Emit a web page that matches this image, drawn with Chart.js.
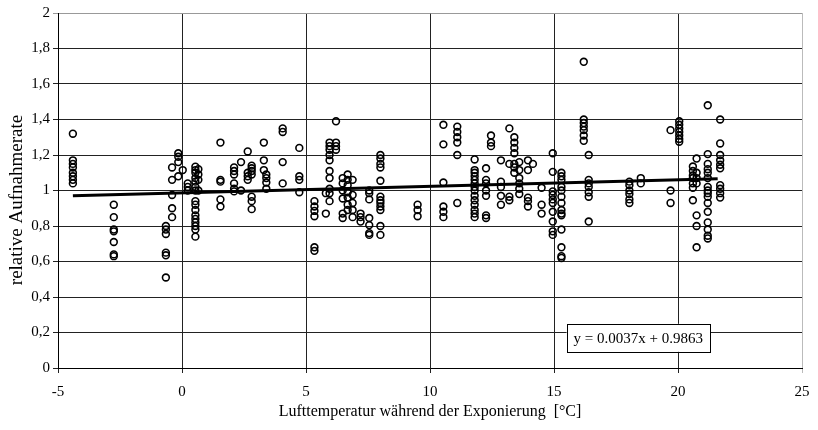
<!DOCTYPE html>
<html>
<head>
    <title>relative Aufnahmerate vs. Lufttemperatur</title>
    <script src="https://cdn.jsdelivr.net/npm/chart.js"></script>
    <style>
        body { margin: 0; background: #fff; }
    </style>
</head>
<body>
    <canvas id="rateChart" width="818" height="430"></canvas>
    <script>
        // temperature of each measured column (°C) and the rates read in that column
        const columnTemps = [
            -4.4, -2.75, -0.65, -0.4, -0.15, 0.03, 0.23, 0.54, 0.66,
            1.55, 2.1, 2.38, 2.65, 2.81, 3.3, 3.4, 4.06, 4.73,
            5.34, 5.8, 5.95, 6.21, 6.48, 6.68, 6.88, 7.2, 7.55, 8.0, 9.5,
            10.54, 11.1, 11.8, 12.26, 12.46, 12.86, 13.2, 13.4, 13.6, 13.95, 14.15, 14.5, 14.95,
            15.3, 16.2, 16.4, 18.04, 18.5, 19.7, 20.05, 20.6, 20.75, 21.2, 21.7
        ];
        const columnRates = [
            [1.32, 1.17, 1.15, 1.13, 1.10, 1.08, 1.06, 1.04],
            [0.92, 0.85, 0.78, 0.77, 0.71, 0.64, 0.63],
            [0.80, 0.78, 0.755, 0.65, 0.635, 0.51],
            [1.13, 1.06, 0.975, 0.90, 0.85],
            [1.21, 1.19, 1.16, 1.08],
            [1.115],
            [1.04, 1.02, 1.0],
            [1.134, 1.115, 1.10, 1.07, 1.05, 1.02, 1.0, 0.94, 0.92, 0.89, 0.86, 0.84, 0.82, 0.80, 0.78, 0.74],
            [1.12, 1.09, 1.06, 1.0],
            [1.27, 1.06, 1.05, 0.95, 0.91],
            [1.13, 1.11, 1.09, 1.04, 1.01, 0.995],
            [1.16, 1.0],
            [1.22, 1.10, 1.08, 1.06],
            [1.14, 1.125, 1.11, 1.09, 0.965, 0.94, 0.895],
            [1.27, 1.17, 1.115],
            [1.09, 1.07, 1.045, 1.01],
            [1.35, 1.33, 1.16, 1.04],
            [1.24, 1.08, 1.06, 0.99],
            [0.94, 0.91, 0.885, 0.855, 0.68, 0.66],
            [0.985, 0.87],
            [1.27, 1.25, 1.23, 1.20, 1.17, 1.11, 1.07, 1.01, 0.985, 0.94],
            [1.39, 1.27, 1.25, 1.23],
            [1.07, 1.04, 1.0, 0.955, 0.87, 0.845],
            [1.09, 1.06, 1.03, 0.99, 0.96, 0.92, 0.89],
            [1.06, 0.975, 0.93, 0.89, 0.85],
            [0.87, 0.85, 0.825],
            [1.0, 0.985, 0.95, 0.845, 0.805, 0.76, 0.75],
            [1.20, 1.18, 1.15, 1.13, 1.055, 0.965, 0.945, 0.93, 0.91, 0.89, 0.80, 0.75],
            [0.92, 0.89, 0.855],
            [1.37, 1.26, 1.045, 0.91, 0.88, 0.85],
            [1.36, 1.33, 1.30, 1.27, 1.20, 0.93],
            [1.175, 1.115, 1.10, 1.08, 1.06, 1.04, 1.02, 1.0, 0.97, 0.945, 0.92, 0.89, 0.87, 0.85],
            [1.125, 1.06, 1.04, 1.0, 0.97, 0.86, 0.845],
            [1.31, 1.27, 1.25],
            [1.17, 1.05, 1.02, 0.97, 0.92],
            [1.35, 1.15, 0.965, 0.945],
            [1.30, 1.27, 1.24, 1.21, 1.15, 1.13, 1.10],
            [1.16, 1.115, 1.07, 1.04, 1.01, 0.98],
            [1.17, 1.115, 0.96, 0.94, 0.91],
            [1.15],
            [1.015, 0.92, 0.87],
            [1.21, 1.105, 0.995, 0.975, 0.95, 0.93, 0.88, 0.825, 0.77, 0.75],
            [1.10, 1.08, 1.06, 1.02, 1.0, 0.965, 0.93, 0.89, 0.87, 0.86, 0.78, 0.68, 0.63, 0.62],
            [1.725, 1.40, 1.38, 1.36, 1.34, 1.31, 1.28],
            [1.20, 1.06, 1.04, 1.02, 0.99, 0.965, 0.825],
            [1.05, 1.03, 1.0, 0.98, 0.95, 0.93],
            [1.07, 1.04],
            [1.34, 1.0, 0.93],
            [1.39, 1.37, 1.35, 1.33, 1.31, 1.29, 1.275],
            [1.135, 1.11, 1.085, 1.07, 1.04, 1.015, 0.945],
            [1.18, 1.10, 1.07, 1.04, 0.86, 0.80, 0.68],
            [1.48, 1.205, 1.15, 1.12, 1.10, 1.07, 1.02, 1.0, 0.985, 0.965, 0.93, 0.88, 0.82, 0.78, 0.745, 0.73],
            [1.40, 1.265, 1.20, 1.17, 1.145, 1.125, 1.03, 1.01, 0.985, 0.96]
        ];

        // regression shown in the chart
        const trendSlope = 0.0037;
        const trendIntercept = 0.9863;
        const trendRange = [-4.4, 21.6];

        const xTickLabels = ['-5', '0', '5', '10', '15', '20', '25'];
        const yTickLabels = ['0', '0,2', '0,4', '0,6', '0,8', '1', '1,2', '1,4', '1,6', '1,8', '2'];

        const points = [];
        columnTemps.forEach((t, i) => {
            columnRates[i].forEach(r => points.push({ x: t, y: r }));
        });
        const trendPoints = trendRange.map(t => ({ x: t, y: trendSlope * t + trendIntercept }));
        const equationText = 'y = ' + trendSlope.toFixed(4) + 'x + ' + trendIntercept.toFixed(4);

        const serif = 'Liberation Serif';

        // white box with the regression equation
        const equationBox = {
            id: 'equationBox',
            afterDatasetsDraw(chart) {
                const { ctx, scales } = chart;
                const cx = scales.x.getPixelForValue(18.4);
                const cy = scales.y.getPixelForValue(0.17);
                ctx.save();
                ctx.font = '15px "' + serif + '"';
                const w = ctx.measureText(equationText).width + 14;
                const h = 28;
                ctx.fillStyle = '#fff';
                ctx.strokeStyle = '#000';
                ctx.lineWidth = 1;
                ctx.fillRect(cx - w / 2, cy - h / 2, w, h);
                ctx.strokeRect(Math.round(cx - w / 2) + 0.5, Math.round(cy - h / 2) + 0.5, Math.round(w), h);
                ctx.fillStyle = '#000';
                ctx.textAlign = 'center';
                ctx.textBaseline = 'middle';
                ctx.fillText(equationText, cx, cy + 1);
                ctx.restore();
            }
        };

        const ctx = document.getElementById('rateChart').getContext('2d');
        new Chart(ctx, {
            type: 'scatter',
            data: {
                datasets: [{
                    label: 'relative Aufnahmerate',
                    data: points,
                    pointRadius: 3.4,
                    pointBorderWidth: 1.6,
                    borderColor: '#000',
                    backgroundColor: 'rgba(255,255,255,0)',
                    pointHoverRadius: 3.4
                }, {
                    type: 'line',
                    label: 'Trend',
                    data: trendPoints,
                    borderColor: '#000',
                    borderWidth: 3,
                    pointRadius: 0,
                    fill: false
                }]
            },
            options: {
                responsive: false,
                animation: false,
                layout: { padding: { left: 0, right: 16, top: 13, bottom: 0 } },
                plugins: {
                    legend: { display: false },
                    tooltip: { enabled: false }
                },
                scales: {
                    x: {
                        type: 'linear',
                        min: -5,
                        max: 25,
                        afterFit: scale => {
                            scale.height = 62;
                            scale.paddingLeft = 0;
                            scale.paddingRight = 0;
                        },
                        ticks: {
                            stepSize: 5,
                            color: '#000',
                            padding: 10,
                            font: { family: serif, size: 15 },
                            callback: (v, i) => xTickLabels[i]
                        },
                        grid: {
                            color: c => c.tick && c.tick.value === 25 ? '#bbb' : '#222',
                            lineWidth: 1,
                            tickLength: 5
                        },
                        border: { color: '#000', width: 1 },
                        title: {
                            display: true,
                            text: 'Lufttemperatur während der Exponierung  [°C]',
                            color: '#000',
                            font: { family: serif, size: 16 },
                            padding: { top: 0, bottom: 9 }
                        }
                    },
                    y: {
                        min: 0,
                        max: 2,
                        afterFit: scale => { scale.width = 58; },
                        ticks: {
                            stepSize: 0.2,
                            color: '#000',
                            padding: 3,
                            font: { family: serif, size: 15 },
                            callback: (v, i) => yTickLabels[i]
                        },
                        grid: {
                            color: c => c.tick && c.tick.value === 2 ? '#999' : '#222',
                            lineWidth: 1,
                            tickLength: 5
                        },
                        border: { color: '#000', width: 1 },
                        title: {
                            display: true,
                            // trailing spaces nudge the rotated title a little lower, as in the original
                            text: 'relative Aufnahmerate    ',
                            color: '#000',
                            font: { family: serif, size: 19 },
                            padding: { top: 6, bottom: 0 }
                        }
                    }
                }
            },
            plugins: [equationBox]
        });
    </script>
</body>
</html>
